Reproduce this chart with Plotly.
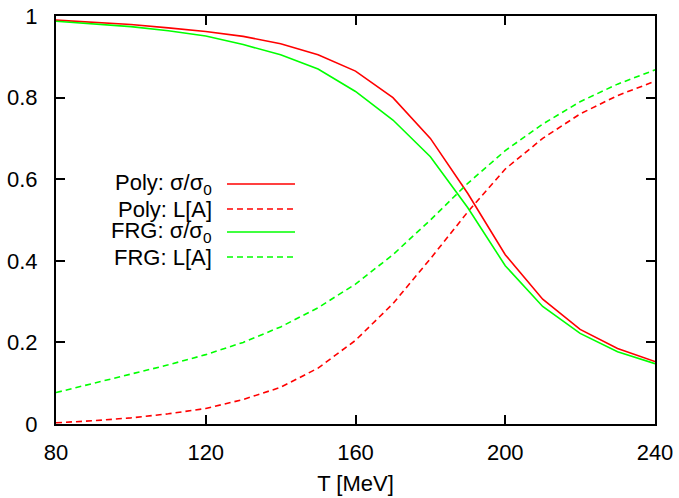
import plotly.graph_objects as go

T = [80, 90, 100, 110, 120, 130, 140, 150, 160, 170, 180, 190, 200, 210, 220, 230, 240]
poly_sigma = [0.990, 0.985, 0.979, 0.971, 0.962, 0.950, 0.932, 0.905, 0.865, 0.800, 0.700, 0.565, 0.415, 0.306, 0.232, 0.185, 0.153]
poly_L = [0.003, 0.008, 0.015, 0.025, 0.038, 0.060, 0.090, 0.137, 0.205, 0.295, 0.405, 0.520, 0.625, 0.700, 0.760, 0.805, 0.840]
frg_sigma = [0.987, 0.981, 0.974, 0.964, 0.951, 0.930, 0.905, 0.870, 0.815, 0.745, 0.655, 0.530, 0.388, 0.288, 0.222, 0.177, 0.148]
frg_L = [0.077, 0.100, 0.122, 0.145, 0.170, 0.200, 0.238, 0.285, 0.343, 0.415, 0.500, 0.590, 0.670, 0.735, 0.790, 0.833, 0.868]

x_ticks = [80, 120, 160, 200, 240]
y_ticks = [0, 0.2, 0.4, 0.6, 0.8, 1]
y_tick_text = ["0", "0.2", "0.4", "0.6", "0.8", "1"]

names = ["Poly: σ/σ<sub>0</sub>", "Poly: L[A]", "FRG: σ/σ<sub>0</sub>", "FRG: L[A]"]
series = [poly_sigma, poly_L, frg_sigma, frg_L]
colors = ["#ff0000", "#ff0000", "#00ff00", "#00ff00"]
dashes = ["solid", "6px,4px", "solid", "6px,4px"]

FONT = "Liberation Sans, Arial, Helvetica, sans-serif"
FS = 22

fig = go.Figure()
for name, ys, c, d in zip(names, series, colors, dashes):
    fig.add_trace(go.Scatter(x=T, y=ys, mode="lines", name=name,
                             line=dict(color=c, width=1.6, dash=d),
                             showlegend=False))

# gnuplot-style key: text right-aligned, sample line to the right
W, H = 679, 498
ml, mr, mt, mb = 56, 24, 16, 74
pw, ph = W - ml - mr, H - mt - mb
row_y = [184, 209, 232, 257]
for name, c, d, yy in zip(names, colors, dashes, row_y):
    yp = 1 - (yy - mt) / ph
    x_text = (214 - ml) / pw
    fig.add_annotation(x=x_text, y=yp, xref="paper", yref="paper", text=name,
                       showarrow=False, xanchor="right", yanchor="middle",
                       font=dict(family=FONT, size=FS, color="black"))
    fig.add_shape(type="line", xref="paper", yref="paper",
                  x0=(227 - ml) / pw, x1=(295 - ml) / pw, y0=yp, y1=yp,
                  line=dict(color=c, width=1.6, dash=d))

axis_common = dict(showline=True, linecolor="black", linewidth=2, mirror="allticks",
                   ticks="inside", ticklen=9, tickwidth=2, tickcolor="black",
                   showgrid=False, zeroline=False, automargin=False,
                   tickfont=dict(family=FONT, size=FS, color="black"))

fig.update_xaxes(range=[80, 240], tickvals=x_ticks, ticklabelstandoff=8,
                 title=dict(text="T [MeV]", font=dict(family=FONT, size=FS, color="black"), standoff=11),
                 **axis_common)
fig.update_yaxes(range=[0, 1], tickvals=y_ticks, ticktext=y_tick_text, ticklabelstandoff=12,
                 **axis_common)

fig.update_layout(width=W, height=H, margin=dict(l=ml, r=mr, t=mt, b=mb),
                  plot_bgcolor="white", paper_bgcolor="white",
                  font=dict(family=FONT, size=FS, color="black"))

fig.write_html("out.html")
